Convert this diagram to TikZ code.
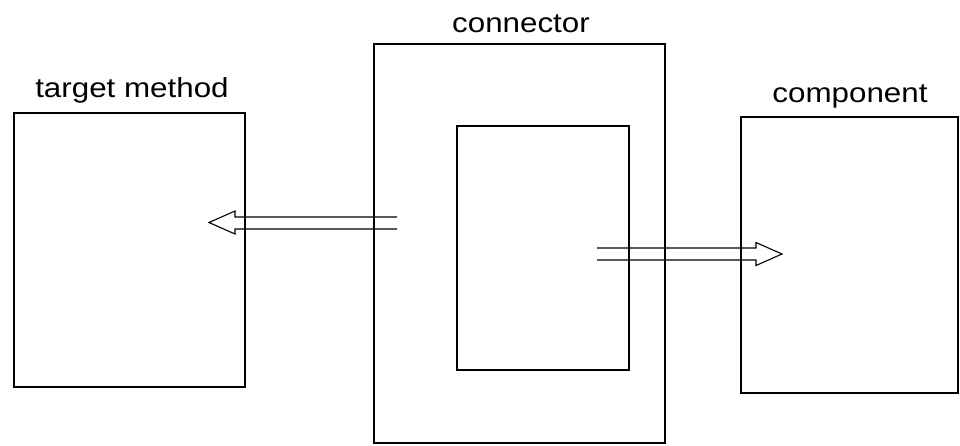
\documentclass[tikz,border=0pt]{standalone}
\usepackage{fontspec}
\setmainfont{Liberation Sans}
\begin{document}
\begin{tikzpicture}[x=1pt,y=-1pt,
  box/.style={draw=black,line width=2pt,minimum width=#1,inner sep=0pt,anchor=north west},
  lbl/.style={font=\fontsize{27.5}{30}\selectfont,inner sep=0pt,anchor=base},
  arr/.style={draw=black,line width=1.1pt,line join=miter}]
\useasboundingbox (0,0) rectangle (960,445);
% boxes
\node[box=231pt,minimum height=274pt] (tm) at (13,112) {};
\node[box=291pt,minimum height=399pt] (con) at (373,43) {};
\node[box=172pt,minimum height=244pt] (inn) at (456,125) {};
\node[box=217pt,minimum height=276pt] (comp) at (740,116) {};
% labels
\node[lbl] (tml) at (132,97) {\scalebox{1.14}[1]{target method}};
\node[lbl] (conl) at (521,32) {\scalebox{1.14}[1]{connector}};
\node[lbl] (compl) at (850,102) {\scalebox{1.14}[1]{component}};
% left arrow
\coordinate (la) at (397,223);
\coordinate (lt) at (209,222.5);
\draw[arr] ([yshift=6pt]la) -- (235,217) -- (235,211) -- (lt) -- (235,234) -- (235,229) -- ([yshift=-6pt]la);
% right arrow
\coordinate (ra) at (597,254);
\coordinate (rt) at (782,254);
\draw[arr] ([yshift=6pt]ra) -- (756,248) -- (756,242.5) -- (rt) -- (756,265.5) -- (756,260) -- ([yshift=-6pt]ra);
\end{tikzpicture}
\end{document}
